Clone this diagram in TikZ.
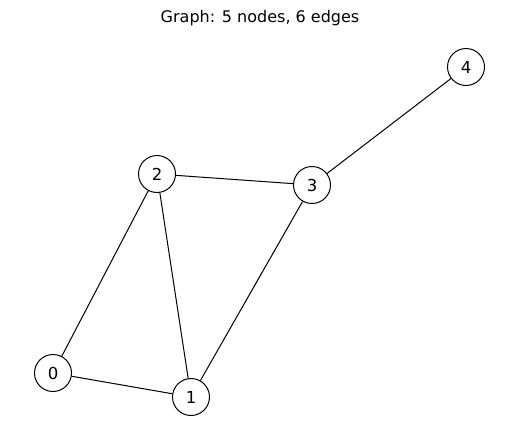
\documentclass[tikz,border=0pt]{standalone}
\usepackage{fontspec}
\setmainfont{DejaVu Sans}
\usetikzlibrary{positioning}
\tikzset{
  x=1pt, y=-1pt,
  vtx/.style={circle, draw=black, fill=white, line width=1pt, minimum size=37pt,
              inner sep=0pt, font=\fontsize{16.5}{19}\selectfont},
  edge/.style={draw=black, line width=1pt},
  ttl/.style={font=\fontsize{16}{19}\selectfont},
}

\begin{document}
\begin{tikzpicture}
  \useasboundingbox (0,0) rectangle (519,442);
  \node[ttl] (title) at (260,18) {Graph: 5 nodes, 6 edges};
  \node[vtx] (n0) at (53,373) {0};
  \node[vtx] (n1) at (191,397) {1};
  \node[vtx] (n2) at (157,174) {2};
  \node[vtx] (n3) at (312,185) {3};
  \node[vtx] (n4) at (466,67) {4};
  \draw[edge] (n0) -- (n2);
  \draw[edge] (n0) -- (n1);
  \draw[edge] (n1) -- (n2);
  \draw[edge] (n1) -- (n3);
  \draw[edge] (n2) -- (n3);
  \draw[edge] (n3) -- (n4);
\end{tikzpicture}
\end{document}
